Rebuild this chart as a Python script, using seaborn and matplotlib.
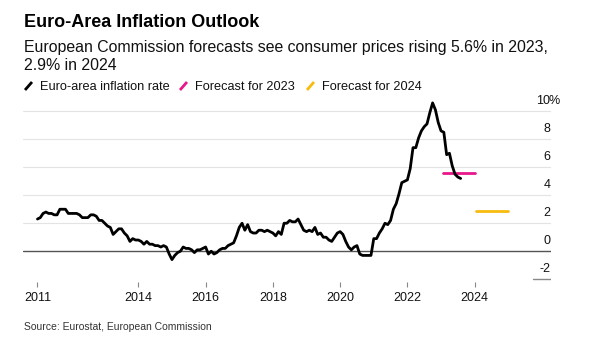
import matplotlib
matplotlib.use("Agg")
import matplotlib.pyplot as plt
import seaborn as sns
import pandas as pd
from matplotlib.lines import Line2D

# ---- data: euro-area HICP inflation, % y/y, monthly ----
rate_2011 = [2.3, 2.4, 2.7, 2.8, 2.7, 2.7, 2.6, 2.6, 3.0, 3.0, 3.0, 2.7]
rate_2012 = [2.7, 2.7, 2.7, 2.6, 2.4, 2.4, 2.4, 2.6, 2.6, 2.5, 2.2, 2.2]
rate_2013 = [2.0, 1.8, 1.7, 1.2, 1.4, 1.6, 1.6, 1.3, 1.1, 0.7, 0.9, 0.8]
rate_2014 = [0.8, 0.7, 0.5, 0.7, 0.5, 0.5, 0.4, 0.4, 0.3, 0.4, 0.3, -0.2]
rate_2015 = [-0.6, -0.3, -0.1, 0.0, 0.3, 0.2, 0.2, 0.1, -0.1, 0.1, 0.1, 0.2]
rate_2016 = [0.3, -0.2, 0.0, -0.2, -0.1, 0.1, 0.2, 0.2, 0.4, 0.5, 0.6, 1.1]
rate_2017 = [1.7, 2.0, 1.5, 1.9, 1.4, 1.3, 1.3, 1.5, 1.5, 1.4, 1.5, 1.4]
rate_2018 = [1.3, 1.1, 1.4, 1.2, 2.0, 2.0, 2.2, 2.1, 2.1, 2.3, 1.9, 1.5]
rate_2019 = [1.4, 1.5, 1.4, 1.7, 1.2, 1.3, 1.0, 1.0, 0.8, 0.7, 1.0, 1.3]
rate_2020 = [1.4, 1.2, 0.7, 0.3, 0.1, 0.3, 0.4, -0.2, -0.3, -0.3, -0.3, -0.3]
rate_2021 = [0.9, 0.9, 1.3, 1.6, 2.0, 1.9, 2.2, 3.0, 3.4, 4.1, 4.9, 5.0]
rate_2022 = [5.1, 5.9, 7.4, 7.4, 8.1, 8.6, 8.9, 9.1, 9.9, 10.6, 10.1, 9.2]
rate_2023 = [8.6, 8.5, 6.9, 7.0, 6.1, 5.5, 5.3, 5.2]

yearly_rates = [rate_2011, rate_2012, rate_2013, rate_2014, rate_2015, rate_2016,
                rate_2017, rate_2018, rate_2019, rate_2020, rate_2021, rate_2022,
                rate_2023]
start_year = 2011

forecast_years = [2023, 2024]
forecast_values = [5.6, 2.9]
forecast_labels = ["Forecast for 2023", "Forecast for 2024"]

x_tick_years = [2011, 2014, 2016, 2018, 2020, 2022, 2024]
y_tick_values = [-2, 0, 2, 4, 6, 8, 10]
y_tick_labels = ["-2", "0", "2", "4", "6", "8", "10"]

series_label = "Euro-area inflation rate"

# ---- build tables ----
rows = []
for i, vals in enumerate(yearly_rates):
    for m, v in enumerate(vals):
        rows.append({"t": start_year + i + m / 12.0, "rate": v})
df = pd.DataFrame(rows)

frows = []
for yr, val, lab in zip(forecast_years, forecast_values, forecast_labels):
    frows.append({"t": yr + 0.05, "rate": val, "label": lab})
    frows.append({"t": yr + 1.0, "rate": val, "label": lab})
dff = pd.DataFrame(frows)

BLACK = "#000000"
PINK = "#e8178a"
YELLOW = "#f8bb10"
palette = {forecast_labels[0]: PINK, forecast_labels[1]: YELLOW}

sns.set_theme(style="white")
plt.rcParams["font.family"] = ["Liberation Sans", "DejaVu Sans"]

fig = plt.figure(figsize=(5.89, 3.46), dpi=100)
ax = fig.add_axes([23 / 589, 64 / 346, (551 - 23) / 589, (247.3 - 64) / 346])

# grid lines
for v in y_tick_values:
    if v == 0:
        ax.axhline(v, color="#555555", lw=1.0, zorder=1)
    elif v == -2:
        ax.axhline(v, xmin=(533 - 23) / 528, xmax=1, color="#888888", lw=1.0, zorder=1)
    else:
        ax.axhline(v, color="#e3e3e3", lw=0.8, zorder=1)

sns.lineplot(data=dff, x="t", y="rate", hue="label", palette=palette,
             lw=2.0, legend=False, ax=ax, zorder=2)
sns.lineplot(data=df, x="t", y="rate", color=BLACK, lw=2.0, legend=False,
             ax=ax, zorder=3)

ax.set_xlim(2010.57, 2026.27)
ax.set_ylim(-2.2, 10.9)
ax.set_xlabel("")
ax.set_ylabel("")
for s in ax.spines.values():
    s.set_visible(False)

ax.set_xticks(x_tick_years)
ax.set_xticklabels([str(y) for y in x_tick_years])
ax.tick_params(axis="x", direction="out", length=3.5, width=0.8, color="#888888",
               labelsize=9, pad=4, labelcolor="#111111", bottom=True)
ax.set_yticks([])

for v, lab in zip(y_tick_values, y_tick_labels):
    ax.annotate(lab, xy=(1.0, v), xycoords=("axes fraction", "data"),
                xytext=(-0.5, 5.5), textcoords="offset points",
                ha="right", va="baseline", fontsize=9, color="#111111")
    if v == max(y_tick_values):
        ax.annotate("%", xy=(1.0, v), xycoords=("axes fraction", "data"),
                    xytext=(-1.5, 5.5), textcoords="offset points",
                    ha="left", va="baseline", fontsize=9, color="#111111")

# titles
fig.text(24 / 589, 1 - 27 / 346, "Euro-Area Inflation Outlook", fontsize=13,
         fontweight="bold", ha="left", va="baseline", color="#000000")
fig.text(24 / 589, 1 - 52 / 346,
         "European Commission forecasts see consumer prices rising 5.6% in 2023,",
         fontsize=11.4, ha="left", va="baseline", color="#111111")
fig.text(24 / 589, 1 - 70 / 346, "2.9% in 2024",
         fontsize=11.4, ha="left", va="baseline", color="#111111")

# legend
legend_items = [(series_label, BLACK, 25, 40.5),
                (forecast_labels[0], PINK, 180, 195),
                (forecast_labels[1], YELLOW, 307, 322)]
for lab, col, ix, tx in legend_items:
    fig.add_artist(Line2D([ix / 589, (ix + 7) / 589],
                          [1 - 90 / 346, 1 - 82 / 346],
                          transform=fig.transFigure, color=col, lw=2.0,
                          solid_capstyle="butt"))
    fig.text(tx / 589, 1 - 90 / 346, lab, fontsize=9.2, ha="left", va="baseline",
             color="#111111")

fig.text(24 / 589, 1 - 330 / 346, "Source: Eurostat, European Commission",
         fontsize=7.5, ha="left", va="baseline", color="#333333")

fig.savefig("out.png", dpi=100, facecolor="white")
